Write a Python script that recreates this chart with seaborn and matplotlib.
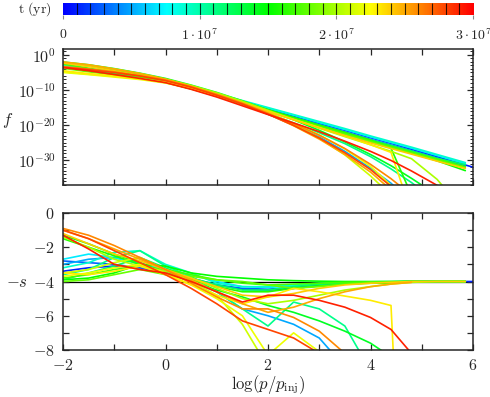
import numpy as np
import pandas as pd
import seaborn as sns
import matplotlib.pyplot as plt
from matplotlib.colors import LinearSegmentedColormap
from matplotlib.ticker import FixedLocator, FixedFormatter, NullFormatter

nan = np.nan

# momentum grid, log(p/p_inj)
x_grid = [-2, -1.5, -1, -0.5, 0, 0.5, 1, 1.5, 2, 2.5, 3, 3.5, 4, 4.4, 4.8, 5.3, 5.85, 6]
# snapshot times in Myr
times_myr = [1, 3, 5, 7, 9, 11, 12, 14, 15, 16, 17, 18, 20, 21, 22, 23, 24, 25, 26, 28, 29]

# -s values, one list per snapshot
s_curves = [
    [-3.4, -3.2, -3.1, -3.2, -3.5, -3.9, -4.2, -4.45, -4.5, -4.4, -4.25, -4.15, -4.08, -4.04, -4.0, -4.0, -4.0, -4.0],
    [-2.8, -2.9, -3.0, -3.2, -3.4, -3.8, -4.2, -4.4, -4.45, -4.35, -4.2, -4.12, -4.06, -4.03, -4.0, -4.0, -4.0, nan],
    [-3.0, -2.7, -2.6, -2.9, -3.4, -4.0, -4.6, -5.6, -6.0, -6.5, -7.3, -9.0, nan, nan, nan, nan, nan, nan],
    [-2.7, -2.4, -2.6, -3.0, -3.3, -3.6, -4.0, -4.3, -4.35, -4.25, -4.15, -4.08, -4.04, -4.02, -4.0, -4.0, -4.0, nan],
    [-3.2, -2.9, -2.3, -2.2, -3.0, -3.5, -4.1, -4.3, -4.3, -4.2, -4.1, -4.05, -4.02, -4.01, -4.0, -4.0, -4.0, nan],
    [-3.6, -3.3, -2.6, -2.2, -3.1, -3.7, -4.6, -5.6, -6.6, -5.2, -5.6, -6.6, -9.2, nan, nan, nan, nan, nan],
    [-3.9, -3.5, -3.1, -2.6, -3.2, -3.8, -4.2, -4.5, -4.5, -4.3, -4.15, -4.08, -4.04, -4.02, -4.0, -4.0, -4.0, nan],
    [-1.3, -1.8, -2.4, -2.9, -3.5, -4.0, -4.5, -4.9, -5.4, -5.8, -6.3, -6.9, -7.6, -8.4, nan, nan, nan, nan],
    [-3.9, -3.8, -3.5, -3.0, -3.1, -3.5, -3.7, -3.8, -3.9, -3.95, -3.98, -4.0, -4.0, -4.0, -4.0, -4.0, -4.0, nan],
    [-1.5, -2.0, -2.5, -3.0, -3.5, -3.9, -4.3, -4.6, -4.6, -4.4, -4.25, -4.15, -4.1, -4.1, nan, nan, nan, nan],
    [-3.8, -3.6, -3.3, -3.1, -3.3, -3.6, -3.9, -4.1, -4.2, -4.15, -4.1, -4.05, -4.02, -4.01, -4.0, -4.0, -4.0, nan],
    [-4.0, -3.9, -3.6, -3.3, -3.6, -3.7, -3.9, -4.0, -4.2, -4.4, -4.3, -4.15, -4.06, -4.02, -4.0, -4.0, -4.0, nan],
    [-1.4, -2.0, -2.7, -3.1, -3.4, -3.8, -4.4, -5.0, -5.3, -5.1, -4.8, -4.5, -4.3, -4.15, -4.05, -4.0, -4.0, nan],
    [-3.5, -3.3, -2.9, -2.6, -3.3, -4.0, -4.8, -6.5, -9.0, nan, nan, nan, nan, nan, nan, nan, nan, nan],
    [-3.7, -3.5, -3.2, -3.0, -3.5, -4.2, -5.0, -6.0, -8.3, -7.0, -8.1, nan, nan, nan, nan, nan, nan, nan],
    [-3.5, -3.6, -3.4, -3.1, -3.6, -4.2, -4.8, -5.3, -4.9, -4.4, -4.6, -4.85, -5.1, -5.4, -30.0, nan, nan, nan],
    [-1.2, -1.8, -2.4, -2.8, -3.3, -3.8, -4.3, -4.8, -4.9, -4.7, -4.4, -4.2, -4.1, -4.05, -4.0, -4.0, -4.0, nan],
    [-1.0, -1.5, -2.1, -2.7, -3.3, -3.9, -4.6, -5.3, -5.8, -5.5, -5.0, -4.6, -4.3, -4.15, -4.05, nan, nan, nan],
    [-0.9, -1.3, -1.9, -2.6, -3.3, -4.1, -4.9, -5.6, -5.6, -6.1, -6.9, -8.2, nan, nan, nan, nan, nan, nan],
    [-1.0, -1.5, -2.2, -2.9, -3.6, -4.4, -5.3, -6.3, -6.8, -7.3, -8.2, nan, nan, nan, nan, nan, nan, nan],
    [-1.3, -2.1, -3.0, -3.3, -3.5, -4.0, -4.6, -5.2, -4.8, -4.8, -5.1, -5.5, -6.1, -6.8, -8.2, nan, nan, nan],
]

# log10 f values, one list per snapshot
logf_curves = [
    [-3.0, -4.1, -5.3, -6.5, -7.7, -9.5, -11.4, -13.4, -15.4, -17.4, -19.5, -21.5, -23.6, -25.2, -26.9, -29.0, -31.4, -32.0],
    [-3.2, -4.3, -5.4, -6.6, -7.8, -9.6, -11.6, -13.6, -15.7, -17.8, -19.9, -22.0, -24.1, -25.7, -27.3, -29.4, -31.6, nan],
    [-3.1, -4.2, -5.3, -6.5, -7.8, -9.6, -11.7, -14.0, -16.9, -20.0, -23.4, -27.5, -32.3, -36.6, -42.0, nan, nan, nan],
    [-2.9, -4.0, -5.1, -6.3, -7.5, -9.3, -11.2, -13.2, -15.2, -17.2, -19.3, -21.3, -23.4, -25.0, -26.6, -28.7, -31.0, nan],
    [-2.7, -3.9, -5.0, -6.1, -7.4, -9.1, -11.0, -13.0, -15.0, -17.0, -19.0, -21.0, -23.1, -24.7, -26.3, -28.4, -30.7, nan],
    [-3.3, -4.4, -5.6, -6.7, -7.9, -9.6, -11.6, -13.9, -16.6, -19.4, -22.2, -25.3, -29.0, -32.5, -36.4, -42.0, nan, nan],
    [-3.5, -4.5, -5.5, -6.6, -7.8, -9.6, -11.6, -13.7, -15.8, -17.9, -20.0, -22.1, -24.2, -25.8, -27.4, -29.5, -31.3, nan],
    [-2.0, -2.8, -3.9, -5.2, -6.7, -8.6, -10.7, -13.1, -15.7, -18.5, -21.5, -24.8, -28.4, -31.6, -35.2, -40.0, nan, nan],
    [-3.6, -4.6, -5.6, -6.6, -7.7, -9.5, -11.6, -13.8, -16.0, -18.2, -20.3, -22.4, -24.5, -26.2, -28.0, -30.2, -33.0, nan],
    [-2.2, -3.2, -4.4, -5.6, -6.9, -8.8, -11.0, -13.3, -15.6, -17.8, -20.0, -22.1, -24.3, -26.6, -40.0, nan, nan, nan],
    [-2.6, -3.8, -5.0, -6.2, -7.4, -9.3, -11.5, -13.8, -16.0, -18.1, -20.3, -22.4, -24.5, -26.1, -27.7, -29.7, -31.9, nan],
    [-3.8, -4.8, -5.7, -6.6, -7.8, -9.7, -11.8, -14.0, -16.2, -18.4, -20.6, -22.7, -24.8, -26.4, -28.0, -30.0, -32.2, nan],
    [-2.1, -2.9, -4.0, -5.3, -6.9, -8.7, -10.8, -13.2, -15.8, -18.4, -20.9, -23.3, -25.6, -27.5, -29.6, -35.5, -45.0, nan],
    [-4.8, -5.5, -6.1, -6.8, -7.8, -9.4, -11.4, -13.8, -16.6, -19.8, -23.7, -28.5, -34.5, -40.0, nan, nan, nan, nan],
    [-5.0, -5.6, -6.3, -7.0, -8.0, -9.6, -11.6, -13.9, -16.5, -19.5, -22.8, -26.8, -31.8, -37.2, nan, nan, nan, nan],
    [-4.5, -5.3, -6.0, -6.8, -7.8, -9.6, -11.6, -13.8, -16.1, -18.4, -20.7, -23.1, -25.6, -27.8, -45.0, nan, nan, nan],
    [-2.3, -3.3, -4.5, -5.8, -7.1, -9.0, -11.2, -13.6, -16.1, -18.5, -20.8, -23.0, -25.1, -26.7, -28.3, -30.3, -32.4, nan],
    [-2.0, -2.8, -4.0, -5.3, -6.9, -8.9, -11.2, -13.8, -16.8, -20.2, -24.0, -28.4, -33.4, -38.5, nan, nan, nan, nan],
    [-3.3, -4.0, -4.8, -5.9, -7.2, -9.1, -11.3, -13.8, -16.6, -19.6, -22.9, -26.7, -31.2, -35.3, -40.0, nan, nan, nan],
    [-3.5, -4.2, -5.0, -6.0, -7.3, -9.2, -11.5, -14.0, -16.9, -20.1, -23.7, -27.9, -32.7, -37.5, nan, nan, nan, nan],
    [-3.6, -4.5, -5.6, -6.7, -7.9, -9.8, -12.0, -14.5, -17.0, -19.4, -21.9, -24.6, -27.5, -30.1, -33.1, -37.2, nan, nan],
]

cbar_ticks = [0, 1e7, 2e7, 3e7]
cbar_labels = [r'$0$', r'$1\cdot10^{7}$', r'$2\cdot10^{7}$', r'$3\cdot10^{7}$']

# long table for seaborn
rows = []
for t, s_vals, lf_vals in zip(times_myr, s_curves, logf_curves):
    for x, s, lf in zip(x_grid, s_vals, lf_vals):
        rows.append({'x': x, 't': t * 1e6, 's': s, 'logf': lf})
df = pd.DataFrame(rows)
df['f'] = 10.0 ** df['logf']

sns.set_style('ticks')
plt.rcParams['mathtext.fontset'] = 'cm'
plt.rcParams['axes.linewidth'] = 1.1

cmap = LinearSegmentedColormap.from_list(
    'rainbow5', ['#0000ff', '#00ffff', '#00ff00', '#ffff00', '#ff0000'])

fig = plt.figure(figsize=(4.9, 3.97), dpi=100)
W, H = 490.0, 397.0
ax_cb = fig.add_axes([63 / W, 1 - 15 / H, 410 / W, 12 / H])
ax1 = fig.add_axes([63 / W, 1 - 185 / H, 410 / W, 136 / H])
ax2 = fig.add_axes([63 / W, 1 - 350 / H, 410 / W, 137 / H])

# colour bar
ax_cb.imshow(np.linspace(0, 1, 600)[None, :], aspect='auto', cmap=cmap,
             extent=[0, 3e7, 0, 1])
ax_cb.vlines(np.arange(1e6, 3e7, 1e6), 0, 1, color='k', lw=0.8, alpha=0.8)
ax_cb.set_xlim(0, 3e7)
ax_cb.set_ylim(0, 1)
ax_cb.set_yticks([])
ax_cb.set_xticks(cbar_ticks)
ax_cb.set_xticklabels(cbar_labels, fontsize=10)
ax_cb.tick_params(axis='x', direction='out', length=3, color='#888888', pad=6)
for sp in ax_cb.spines.values():
    sp.set_visible(False)
fig.text(52 / W, 1 - 9 / H, r'$\mathrm{t\ (yr)}$', ha='right', va='center', fontsize=10)

# top panel: f
top = df.dropna(subset=['f'])
sns.lineplot(data=top, x='x', y='f', hue='t', palette=cmap, hue_norm=(0, 3e7),
             units='t', estimator=None, sort=False, legend=False, lw=1.2, ax=ax1)
ax1.set_yscale('log')
ax1.set_xlim(-2, 6)
ax1.set_ylim(10 ** -37.1, 10 ** 1.7)
ax1.xaxis.set_major_locator(FixedLocator(list(range(-2, 7))))
ax1.xaxis.set_major_formatter(NullFormatter())
ax1.yaxis.set_major_locator(FixedLocator([1, 1e-10, 1e-20, 1e-30]))
ax1.yaxis.set_major_formatter(FixedFormatter([r'$10^{0}$', r'$10^{-10}$', r'$10^{-20}$', r'$10^{-30}$']))
ax1.yaxis.set_minor_locator(FixedLocator([10.0 ** k for k in range(-37, 2)]))
ax1.yaxis.set_minor_formatter(NullFormatter())
ax1.tick_params(which='major', direction='in', top=True, right=True, length=4, width=0.9,
                labelsize=11.5, pad=5)
ax1.tick_params(which='minor', direction='in', left=True, right=True, length=2, width=0.7)
ax1.set_xlabel('')
ax1.set_ylabel('')

# bottom panel: -s
ax2.axhline(-4, color='k', lw=0.9, zorder=0)
bot = df.dropna(subset=['s'])
sns.lineplot(data=bot, x='x', y='s', hue='t', palette=cmap, hue_norm=(0, 3e7),
             units='t', estimator=None, sort=False, legend=False, lw=1.2, ax=ax2)
ax2.set_xlim(-2, 6)
ax2.set_ylim(-8, 0)
ax2.xaxis.set_major_locator(FixedLocator([-2, 0, 2, 4, 6]))
ax2.xaxis.set_major_formatter(FixedFormatter([r'$-2$', r'$0$', r'$2$', r'$4$', r'$6$']))
ax2.xaxis.set_minor_locator(FixedLocator([-1, 1, 3, 5]))
ax2.yaxis.set_major_locator(FixedLocator([0, -2, -4, -6, -8]))
ax2.yaxis.set_major_formatter(FixedFormatter([r'$0$', r'$-2$', r'$-4$', r'$-6$', r'$-8$']))
ax2.yaxis.set_minor_locator(FixedLocator([-1, -3, -5, -7]))
ax2.tick_params(which='both', direction='in', top=True, right=True, length=4, width=0.9,
                labelsize=11.5, pad=6)
ax2.set_xlabel('')
ax2.set_ylabel('')

fig.text(8 / W, 1 - 120 / H, r'$f$', ha='center', va='center', fontsize=12)
fig.text(17 / W, 1 - 282 / H, r'$-s$', ha='center', va='center', fontsize=12)
fig.text(268 / W, 1 - 385 / H, r'$\log(p/p_{\rm inj})$', ha='center', va='center', fontsize=12)

fig.savefig('out.png', dpi=100)
